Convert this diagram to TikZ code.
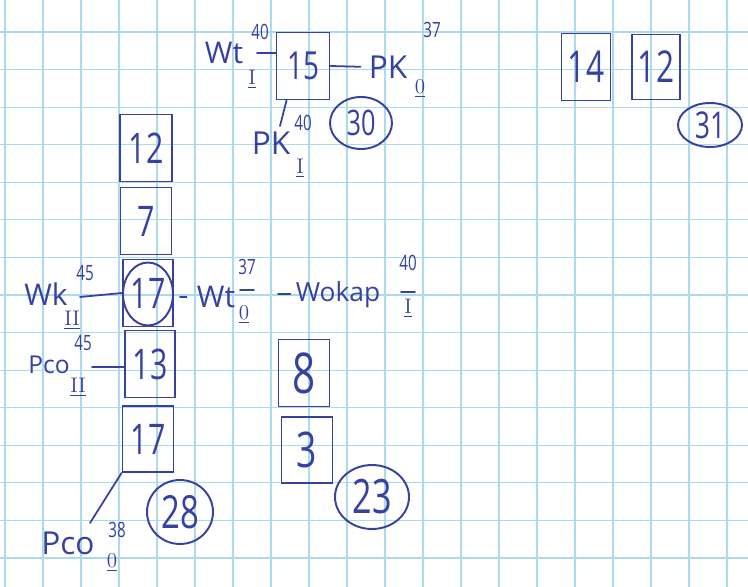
\documentclass[tikz,border=0pt]{standalone}
\usepackage{fontspec}
\newfontfamily\hand{Open Sans}
\newfontfamily\handn[FakeStretch=0.72]{Open Sans}
\usetikzlibrary{shapes.geometric}
\definecolor{ink}{RGB}{55,65,160}
\definecolor{gridc}{RGB}{170,218,235}
\tikzset{
 gridline/.style={draw=gridc, line width=0.6pt},
 box/.style={draw=ink, line width=1.1pt, rectangle, inner sep=0pt, text=ink, font=\handn\fontsize{#1}{#1}\selectfont},
 box/.default=24,
 circ/.style={draw=ink, line width=1.1pt, ellipse, inner sep=0pt, text=ink, font=\handn\fontsize{#1}{#1}\selectfont},
 circ/.default=22,
 lbl/.style={text=ink, inner sep=0pt, font=\hand\fontsize{#1}{#1}\selectfont},
 lbl/.default=17,
 supn/.style={text=ink, inner sep=0pt, font=\handn\fontsize{12}{12}\selectfont},
 subn/.style={text=ink, inner sep=0pt, font=\fontsize{12}{12}\selectfont},
 conn/.style={draw=ink, line width=1pt, line cap=round},
}
\begin{document}
\begin{tikzpicture}[x=0.02cm,y=-0.02cm]
\useasboundingbox (0,0) rectangle (748,587);
\fill[white] (0,0) rectangle (748,587);
\foreach \k in {0,...,19} \draw[gridline] ({5+38*\k},0) -- ({5+38*\k},587);
\foreach \k in {0,...,14} \draw[gridline] (0,{32+37.57*\k}) -- (748,{32+37.57*\k});

% boxes
\node[box=22, minimum width=1.06cm, minimum height=1.34cm] (b15) at (303,66) {15};
\node[box=25, minimum width=0.98cm, minimum height=1.34cm] (b14) at (586,67) {14};
\node[box=25, minimum width=0.96cm, minimum height=1.30cm] (b12r) at (656,67) {12};
\node[box, minimum width=1.04cm, minimum height=1.34cm] (b12) at (146,148) {12};
\node[box, minimum width=1.02cm, minimum height=1.34cm] (b7) at (146,221) {7};
\node[box, minimum width=1.0cm, minimum height=1.34cm] (b17a) at (148,293) {17};
\node[circ, minimum width=1.0cm, minimum height=1.26cm] (c17) at (148,294) {};
\node[box, minimum width=1.0cm, minimum height=1.34cm] (b13) at (150,364) {13};
\node[box, minimum width=1.02cm, minimum height=1.32cm] (b17b) at (148,439) {17};
\node[box=32, minimum width=1.02cm, minimum height=1.34cm] (b8) at (304,373) {8};
\node[box=28, minimum width=1.02cm, minimum height=1.32cm] (b3) at (307,450) {3};

% circled numbers
\node[circ=20, minimum width=1.24cm, minimum height=1.04cm] (c30) at (361,123) {30};
\node[circ=21, minimum width=1.28cm, minimum height=0.88cm] (c31) at (710,125) {31};
\node[circ=26, minimum width=1.32cm, minimum height=1.28cm] (c28) at (180,512) {28};
\node[circ=27, minimum width=1.48cm, minimum height=1.28cm] (c23) at (372,497) {23};

% top group labels
\node[lbl] (wtA) at (224,53) {Wt};
\node[supn] (wtAs) at (260,32) {40};
\node[subn] (wtAi) at (252,79) {\underline{I}};
\coordinate (wtAe) at (257,53);
\draw[conn] (wtAe) -- (b15.west |- wtAe);

\node[lbl=18] (pkR) at (388,67) {PK};
\node[supn] (pkRs) at (432,30) {37};
\node[subn] (pkRi) at (420,88) {\underline{0}};
\draw[conn, shorten >=0.16cm] (b15.east) -- (pkR.west);

\node[lbl=18] (pkB) at (271,143) {PK};
\node[supn] (pkBs) at (303,123) {40};
\node[subn] (pkBi) at (300,168) {\underline{I}};
\coordinate (pkBt) at (280,126);
\draw[conn] ([xshift=0.22cm]b15.south west) -- (pkBt);

% middle labels
\node[lbl] (wk) at (46,294) {Wk};
\node[supn] (wks) at (85,273) {45};
\node[subn] (wki) at (72,320) {\underline{II}};
\coordinate (wkE) at (80,297);
\draw[conn] (wkE) -- (b17a.west);

\node[lbl=14] (pco1) at (49,365) {Pco};
\node[supn] (pco1s) at (83,343) {45};
\node[subn] (pco1i) at (78,387) {\underline{II}};
\coordinate (pco1E) at (92,367);
\draw[conn] (pco1E) -- (b13.west |- pco1E);

\node[lbl] (wtB) at (216,297) {Wt};
\draw[conn, shorten <=0.12cm, shorten >=0.2cm] (b17a.east |- wtB.west) -- (wtB.west);
\node[supn] (wtBs) at (247,267) {37};
\draw[conn] (wtBs.south) ++(-7,15) -- ++(14,0);
\node[subn] (wtBi) at (244,314) {\underline{0}};

\node[lbl=15] (wok) at (338,295) {Wokap};
\coordinate (wokD) at (278,294);
\draw[conn, shorten >=0.1cm] (wokD) -- (wok.west |- wokD);
\node[supn] (woks) at (408,263) {40};
\draw[conn] (woks.south) ++(-7,21) -- ++(14,0);
\node[subn] (woki) at (408,308) {\underline{I}};

% bottom label
\node[lbl=18] (pco2) at (68,543) {Pco};
\node[supn] (pco2s) at (117,530) {38};
\node[subn] (pco2i) at (112,562) {\underline{0}};
\coordinate (pco2t) at (90,523);
\draw[conn] (b17b.south west) -- (pco2t);
\end{tikzpicture}
\end{document}
